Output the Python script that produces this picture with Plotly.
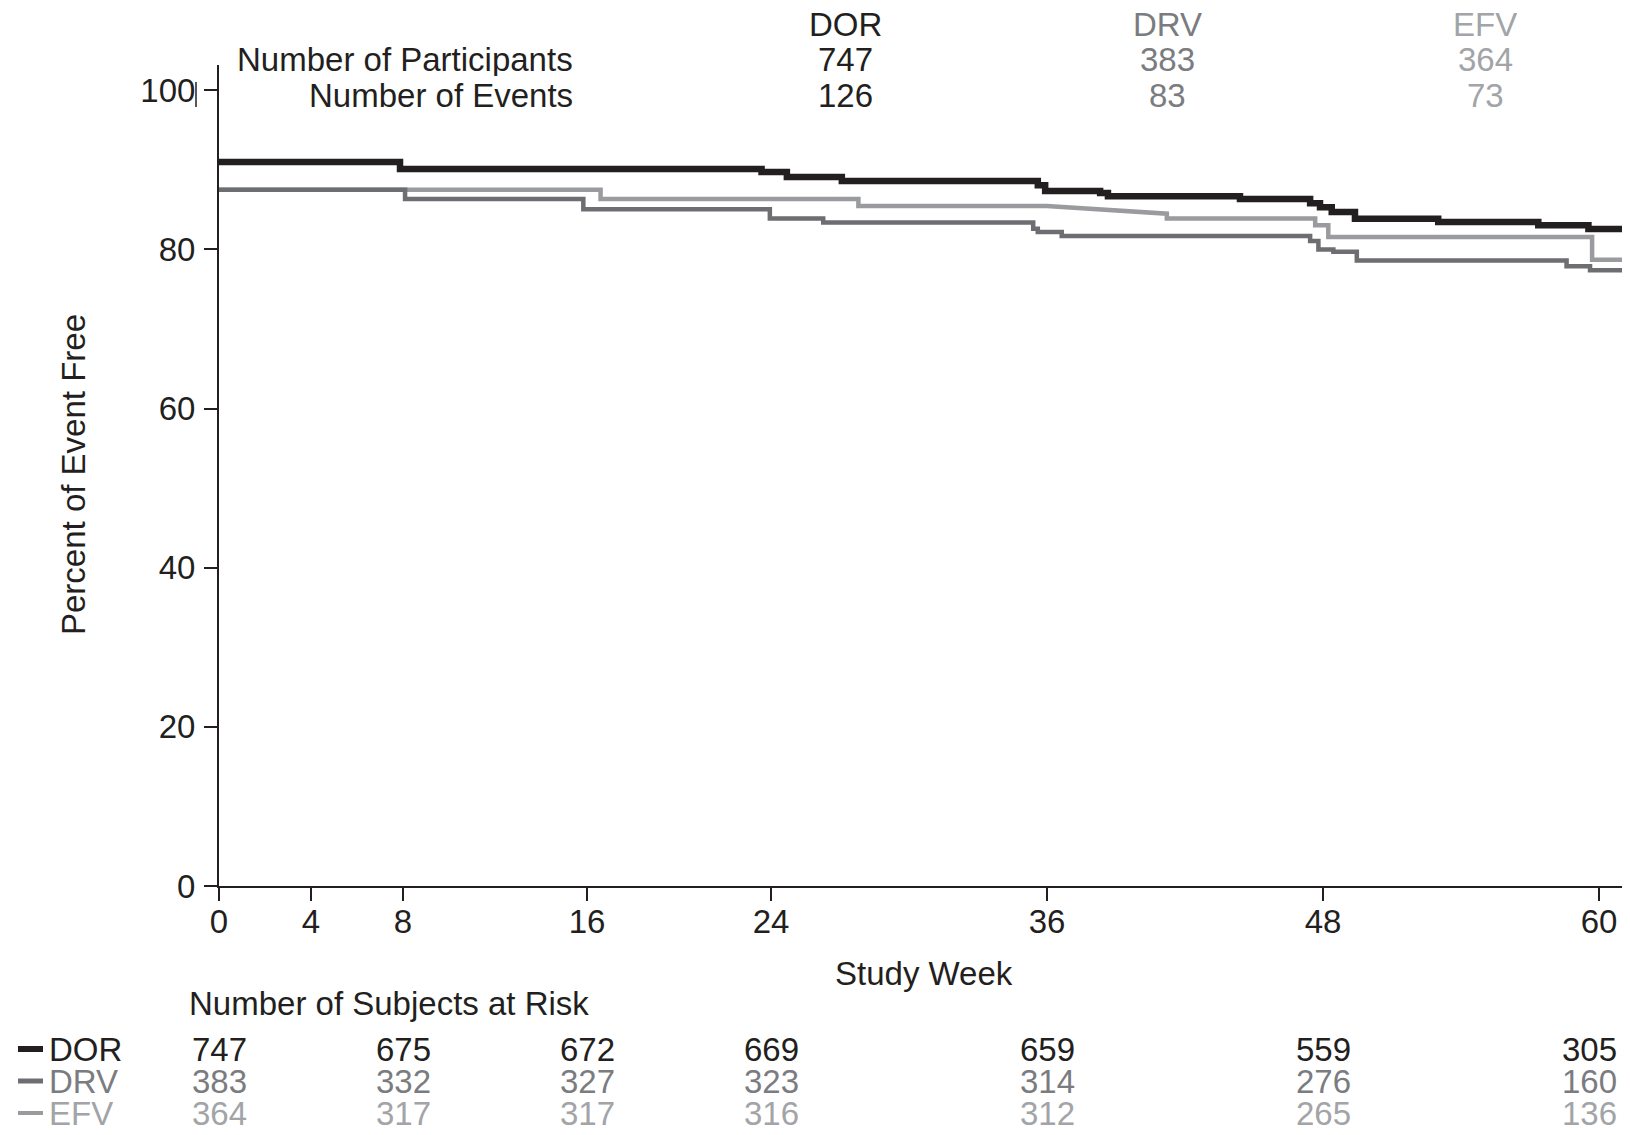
import plotly.graph_objects as go

# ---------------- data ----------------
arms = ["DOR", "DRV", "EFV"]
participants = [747, 383, 364]
events = [126, 83, 73]

dor_weeks = [0, 7.87, 23.59, 24.69, 27.08, 35.60, 35.92, 38.31, 38.65, 44.39, 47.44, 47.87, 48.38, 49.39, 53.01, 57.36, 59.54]
dor_surv = [91.0, 90.1, 89.74, 89.1, 88.6, 88.06, 87.35, 87.1, 86.7, 86.35, 85.8, 85.3, 84.7, 83.87, 83.45, 83.03, 82.57]

drv_weeks = [0, 8.09, 15.84, 23.95, 26.27, 35.40, 35.60, 36.64, 47.44, 47.80, 48.45, 49.47, 58.59, 59.61]
drv_surv = [87.5, 86.35, 85.05, 83.9, 83.4, 82.6, 82.2, 81.7, 81.06, 80.0, 79.7, 78.6, 77.9, 77.4]

efv_weeks = [0, 16.59, 27.80, 35.99, 41.21, 41.21, 47.66, 48.23, 59.70]
efv_surv = [87.5, 86.35, 85.46, 85.46, 84.5, 83.9, 83.03, 81.56, 78.7]
efv_linear_segments = [3]  # segment starting at this index is drawn as a straight join

risk_weeks = [0, 8, 16, 24, 36, 48, 60]
risk_dor = [747, 675, 672, 669, 659, 559, 305]
risk_drv = [383, 332, 327, 323, 314, 276, 160]
risk_efv = [364, 317, 317, 316, 312, 265, 136]

x_ticks = [0, 4, 8, 16, 24, 36, 48, 60]
y_ticks = [0, 20, 40, 60, 80, 100]

# ---------------- styling ----------------
OFF = 8                      # browser body margin
W, H = 1630 - 2 * OFF, 1135 - 2 * OFF
PLOT_BOTTOM_REF = 886        # x-axis position in reference pixels
ML, MR, MT = 219 - OFF, 0, 65 - OFF
MB = H - (PLOT_BOTTOM_REF - OFF)
PW, PH = W - ML - MR, H - MT - MB
PX_PER_WEEK = 23.0
PX_PER_PCT = 7.957
follow_up_end = PW / PX_PER_WEEK

FONT = "Liberation Sans, Arial, sans-serif"
FS = 33
c_dor, c_drv, c_efv = "#231f20", "#6d6e71", "#9a9b9e"
t_dor, t_drv, t_efv = "#231f20", "#7b7c7f", "#a2a4a7"
line_colors = [c_dor, c_drv, c_efv]
text_colors = [t_dor, t_drv, t_efv]
widths = [6.5, 4.5, 4.5]


def px2x(px):
    """reference-image pixel x -> paper x"""
    return (px - OFF - ML) / PW


def py2y(py):
    """reference-image pixel y -> paper y"""
    return (H - MB - (py - OFF)) / PH


def step_path(t, s, end, linear=()):
    xs, ys = [t[0]], [s[0]]
    for i in range(1, len(t)):
        if (i - 1) in linear:
            xs.append(t[i]); ys.append(s[i])
        else:
            xs += [t[i], t[i]]; ys += [s[i - 1], s[i]]
    xs.append(end); ys.append(s[-1])
    return xs, ys


fig = go.Figure()
curves = [(dor_weeks, dor_surv, ()), (drv_weeks, drv_surv, ()), (efv_weeks, efv_surv, efv_linear_segments)]
for k in [2, 1, 0]:
    t, s, lin = curves[k]
    xs, ys = step_path(t, s, follow_up_end, lin)
    fig.add_trace(go.Scatter(x=xs, y=ys, mode="lines", name=arms[k],
                             line=dict(color=line_colors[k], width=widths[k]),
                             showlegend=False, hoverinfo="skip"))

annotations = []
# header table
hdr_x = [845, 1167, 1485]
for i, a in enumerate(arms):
    for val, py in [(a, 25), (participants[i], 59), (events[i], 95)]:
        annotations.append(dict(x=px2x(hdr_x[i]), y=py2y(py), xref="paper", yref="paper",
                                text=str(val), showarrow=False, xanchor="center", yanchor="middle",
                                height=31, valign="middle",
                                font=dict(family=FONT, size=FS, color=text_colors[i])))
for txt, py in [("Number of Participants", 59), ("Number of Events", 95)]:
    annotations.append(dict(x=px2x(575), y=py2y(py), xref="paper", yref="paper", text=txt,
                            showarrow=False, xanchor="right", yanchor="middle",
                            height=34, valign="middle",
                            font=dict(family=FONT, size=FS, color=c_dor)))

# axis titles
annotations.append(dict(x=px2x(924), y=py2y(973), xref="paper", yref="paper", text="Study Week",
                        showarrow=False, xanchor="center", yanchor="middle",
                        font=dict(family=FONT, size=FS, color=c_dor)))
annotations.append(dict(x=px2x(73), y=py2y(475), xref="paper", yref="paper", text="Percent of Event Free",
                        showarrow=False, xanchor="center", yanchor="middle", textangle=-90,
                        font=dict(family=FONT, size=FS, color=c_dor)))

# at-risk table
annotations.append(dict(x=px2x(187), y=py2y(1003), xref="paper", yref="paper",
                        text="Number of Subjects at Risk", showarrow=False, xanchor="left", yanchor="middle",
                        font=dict(family=FONT, size=FS, color=c_dor)))
row_y = [1049, 1081, 1113]
risk_rows = [risk_dor, risk_drv, risk_efv]
last_col_shift = -10   # the source places the last column slightly left of its tick
shapes = []
for i, a in enumerate(arms):
    annotations.append(dict(x=px2x(47), y=py2y(row_y[i]), xref="paper", yref="paper", text=a,
                            showarrow=False, xanchor="left", yanchor="middle",
                            height=31, valign="middle",
                            font=dict(family=FONT, size=FS, color=text_colors[i])))
    shapes.append(dict(type="line", xref="paper", yref="paper", x0=px2x(18), x1=px2x(43),
                       y0=py2y(row_y[i]), y1=py2y(row_y[i]),
                       line=dict(color=line_colors[i], width=[6, 5, 4][i])))
    for j, (wk, n) in enumerate(zip(risk_weeks, risk_rows[i])):
        annotations.append(dict(x=wk, y=py2y(row_y[i]), xref="x", yref="paper", text=str(n),
                                showarrow=False, xanchor="center", yanchor="middle",
                                height=31, valign="middle",
                                xshift=last_col_shift if j == len(risk_weeks) - 1 else 0,
                                font=dict(family=FONT, size=FS, color=text_colors[i])))

# small vertical mark next to the 100 label (as in the source image)
shapes.append(dict(type="line", xref="paper", yref="paper", x0=px2x(196), x1=px2x(196),
                   y0=py2y(82), y1=py2y(107), line=dict(color=c_dor, width=1.5)))

fig.update_layout(
    width=W, height=H,
    margin=dict(l=ML, r=MR, t=MT, b=MB, pad=0),
    paper_bgcolor="white", plot_bgcolor="white",
    annotations=annotations, shapes=shapes,
    font=dict(family=FONT, size=FS, color=c_dor),
)
fig.update_xaxes(range=[0, follow_up_end], tickvals=x_ticks, ticktext=[str(v) for v in x_ticks],
                 showline=True, linecolor=c_dor, linewidth=2, ticks="outside", ticklen=13,
                 tickwidth=2, tickcolor=c_dor, showgrid=False, zeroline=False,
                 tickfont=dict(family=FONT, size=FS, color=c_dor), ticklabelstandoff=-8)
fig.update_yaxes(range=[0, PH / PX_PER_PCT], tickvals=y_ticks, ticktext=[str(v) for v in y_ticks],
                 showline=True, linecolor=c_dor, linewidth=2, ticks="outside", ticklen=13,
                 tickwidth=2, tickcolor=c_dor, showgrid=False, zeroline=False,
                 tickfont=dict(family=FONT, size=FS, color=c_dor), ticklabelstandoff=2)

fig.write_html("out.html")
